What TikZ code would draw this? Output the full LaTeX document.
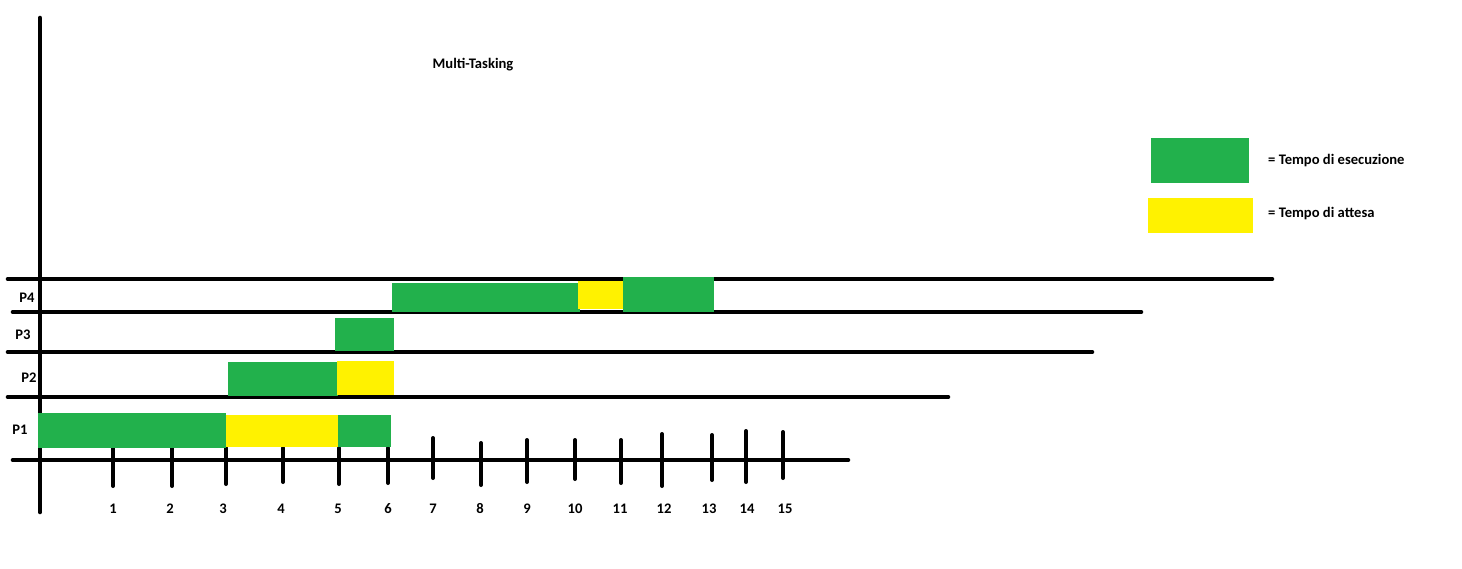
\documentclass[tikz,border=0pt]{standalone}
\usepackage{fontspec}
\setmainfont{Carlito}
\usetikzlibrary{positioning}

\begin{document}
\begin{tikzpicture}[x=1pt, y=-1pt, line cap=round,
    every node/.style={font=\bfseries\fontsize{14.6}{16}\selectfont, inner sep=0pt},
    axisline/.style={line width=4.6pt, black},
    tickline/.style={line width=4pt, black},
    execbar/.style={fill=execcol},
    waitbar/.style={fill=waitcol}]
  % Define colors
  \definecolor{execcol}{HTML}{22B14C}
  \definecolor{waitcol}{HTML}{FFF200}
  \useasboundingbox (0,0) rectangle (1462,568);

  % Title
  \node (title) at (473,65) {Multi-Tasking};

  % Axes
  \draw[axisline] (40,18) -- (40,512);
  \draw[axisline] (13,460) -- (848,460);

  % Row separators
  \draw[axisline] (8,279) -- (1272,279);
  \draw[axisline] (13,312) -- (1141,312);
  \draw[axisline] (8,352) -- (1092,352);
  \draw[axisline] (8,397) -- (948,397);

  % Ticks and time labels
  \foreach \x/\ya/\yb/\lx/\t in {113/448/486/113/1, 172/448/486/170/2, 226/448/484/223/3,
      283/448/482/281/4, 339/448/484/338/5, 388/448/483/388/6, 433/438/478/433/7,
      481/443/485/480/8, 527/440/482/527/9, 575/440/479/575/10, 621/440/483/620/11,
      662/434/486/664/12, 712/435/480/709/13, 746/431/482/747/14, 783/432/478/785/15}
    \draw[tickline] (\x,\ya) -- (\x,\yb) node[at={(\lx,509)}] (t\t) {\t};

  % Process labels
  \node (p4) at (27,298) {P4};
  \node (p3) at (23,335) {P3};
  \node (p2) at (29,378) {P2};
  \node (p1) at (20,430) {P1};

  % P1
  \fill[execbar] (38,413) rectangle (226,448);
  \fill[waitbar] (226,415) rectangle (338,447);
  \fill[execbar] (338,415) rectangle (391,447);
  % P2
  \fill[execbar] (228,362) rectangle (338,396);
  \fill[waitbar] (337,361) rectangle (394,395);
  % P3
  \fill[execbar] (335,318) rectangle (394,351);
  % P4
  \fill[execbar] (392,283) rectangle (580,312);
  \fill[waitbar] (578,281) rectangle (623,309);
  \fill[execbar] (623,277) rectangle (714,312);

  % Legend
  \fill[execbar] (1151,138) rectangle (1249,183);
  \fill[waitbar] (1148,198) rectangle (1253,233);
  \node[anchor=west] (exec) at (1268,161) {= Tempo di esecuzione};
  \node[anchor=west] (wait) at (1268,214) {= Tempo di attesa};
\end{tikzpicture}
\end{document}
